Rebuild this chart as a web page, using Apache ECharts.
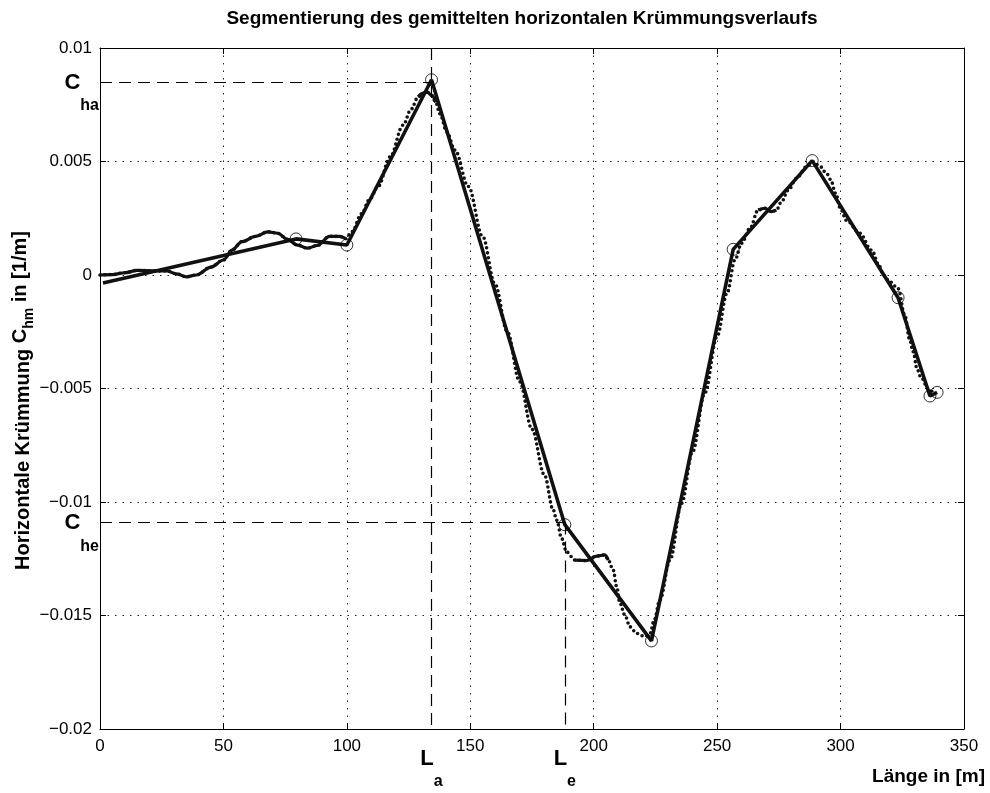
<!DOCTYPE html>
<html>
<head>
<meta charset="utf-8">
<title>Segmentierung</title>
<script src="https://cdn.jsdelivr.net/npm/echarts@6/dist/echarts.min.js"></script>
<style>
html, body { margin: 0; padding: 0; background: #fff; }
#main { width: 990px; height: 793px; }
</style>
</head>
<body>
<div id="main"></div>
<script>
// gemittelter Krümmungsverlauf
const meanX = [0, 5, 10, 15, 22, 27, 31, 35, 39, 45, 50, 53.5, 57.5, 63, 68, 72, 76, 80, 84, 88, 93, 97, 99.5,
  102, 106, 109, 112.7, 117.5, 122.8, 126, 128.9, 130.7, 132.6, 134.5, 136, 137.7, 140.5, 143.8, 149.2,
  155, 160, 165, 170, 175, 180, 183.6, 185, 187, 189, 192.4, 197, 201.2, 204.5, 205.9, 207.9, 209.3,
  210.6, 212.6, 214.7, 217.4, 220.7, 222.8, 224.5, 226.8, 230.9, 235.6, 240, 245, 250, 254, 257.2,
  259.9, 263.3, 266.6, 269.3, 272, 274, 276.1, 278.8, 282.2, 286.2, 288.9, 291.5, 294.3, 296, 298,
  300, 302.4, 307.8, 312.5, 315.9, 317.2, 320, 323.3, 326, 328, 329.4, 331, 332.4, 335.5, 337.5]
const meanY = [0, 0.00002, 0.0001, 0.0002, 0.00018, 0.00018, 0.00005, -0.00008, 0.0, 0.00035, 0.00066, 0.0011,
  0.00147, 0.0017, 0.0019, 0.00184, 0.00157, 0.00132, 0.00118, 0.0013, 0.0017, 0.0017, 0.0016,
  0.0019, 0.0027, 0.0033, 0.0039, 0.0052, 0.0066, 0.0073, 0.00785, 0.008, 0.00805, 0.0079, 0.0076,
  0.0071, 0.0063, 0.0055, 0.0039, 0.0017, -0.0004, -0.0025, -0.0047, -0.0068, -0.0088, -0.01035,
  -0.0108, -0.0116, -0.0122, -0.01256, -0.01258, -0.01238, -0.01233, -0.01256, -0.013, -0.01373,
  -0.01445, -0.01498, -0.0155, -0.01579, -0.01593, -0.0158, -0.0152, -0.01432, -0.01256, -0.01006,
  -0.0078, -0.0052, -0.0027, -0.0008, 0.00066, 0.0014, 0.00206, 0.00286, 0.00294, 0.00279, 0.00286,
  0.00323, 0.00374, 0.00426, 0.00477, 0.00499, 0.0048, 0.00448, 0.0042, 0.0036, 0.0029, 0.0024,
  0.00184, 0.0011, 0.00037, 0.0, -0.0003, -0.0006, -0.00176, -0.00286, -0.00338, -0.00414, -0.00448,
  -0.005, -0.00524]
// parts of the mean curve where the dots run together
const solidRanges = [[0, 100], [128.5, 136.5], [191, 206], [264, 274]]

// segmentation (straight pieces between the circled break points)
const segX = [1.2, 79.4, 100, 134.3, 188.3, 223.4, 256.5, 288.5, 323.3, 336.2, 339.1]
const segY = [-0.00035, 0.00159, 0.00132, 0.0086, -0.011, -0.01612, 0.00113, 0.00504, -0.001, -0.00533, -0.00517]

const La = 134.3
const Le = 188.3
const Cha = 0.0085
const Che = -0.0109

const FONT = 'Liberation Sans'
const INK = '#111'

const myChart = echarts.init(document.getElementById('main'))

const pairs = (xs, ys) => xs.map((x, i) => [x, ys[i]])
const meanData = pairs(meanX, meanY)

const solidSeries = solidRanges.map(r => ({
  type: 'line',
  data: meanData.filter(p => p[0] >= r[0] && p[0] <= r[1]),
  smooth: 0.35,
  smoothMonotone: 'x',
  showSymbol: false,
  lineStyle: { color: INK, width: 3.2 },
  z: 3
}))

const subLabel = (main, sub) => ({
  formatter: `{m|${main}}{s|${sub}}`,
  color: '#000',
  rich: {
    m: { fontFamily: FONT, fontWeight: 'bold', fontSize: 22, lineHeight: 24, padding: [2, 0, 38, 0], verticalAlign: 'top' },
    s: { fontFamily: FONT, fontWeight: 'bold', fontSize: 16, lineHeight: 16, padding: [28, 0, 20, 0], verticalAlign: 'top' }
  }
})

const yFmt = v => {
  if (Math.abs(v) < 1e-12) return '0'
  const s = String(+Math.abs(v).toFixed(4))
  return v < 0 ? '\u2212' + s : s
}

const dashStyle = { color: '#000', width: 1.2, type: [12, 7] }
const gridDots = { color: '#222', width: 1, type: [1.5, 6] }

myChart.setOption({
  animation: false,
  backgroundColor: '#fff',
  title: {
    text: 'Segmentierung des gemittelten horizontalen Krümmungsverlaufs',
    left: 517,
    top: 4,
    textAlign: 'center',
    textStyle: { fontFamily: FONT, fontWeight: 'bold', fontSize: 19, color: '#000' }
  },
  grid: { left: 100, right: 26, top: 48, bottom: 64, outerBoundsMode: 'none' },
  xAxis: [{
    type: 'value',
    min: 0, max: 350, interval: 50,
    name: 'Länge in [m]',
    nameLocation: 'end',
    nameGap: 21,
    nameTextStyle: {
      fontFamily: FONT, fontWeight: 'bold', fontSize: 19, color: '#000',
      align: 'right', verticalAlign: 'top', padding: [38, 0, 0, 0]
    },
    axisLine: { onZero: false, lineStyle: { color: '#000', width: 1 } },
    axisTick: { inside: true, length: 6, lineStyle: { color: '#000' } },
    axisLabel: { fontFamily: FONT, fontSize: 17, color: '#000', margin: 9 },
    splitLine: { show: true, lineStyle: gridDots }
  }, {
    type: 'value', position: 'top',
    min: 0, max: 350, interval: 50,
    axisLine: { show: true, onZero: false, lineStyle: { color: '#000', width: 1 } },
    axisTick: { inside: true, length: 6, lineStyle: { color: '#000' } },
    axisLabel: { show: false },
    splitLine: { show: false }
  }],
  yAxis: [{
    type: 'value',
    min: -0.02, max: 0.01, interval: 0.005,
    name: 'Horizontale Krümmung {c|C}{s|hm}{c| in [1/m]}',
    nameLocation: 'middle',
    nameGap: 66,
    nameMoveOverlap: false,
    nameTextStyle: {
      fontFamily: FONT, fontWeight: 'bold', fontSize: 20, color: '#000',
      padding: [0, 24, 0, 0],
      rich: {
        c: { fontFamily: FONT, fontWeight: 'bold', fontSize: 20, color: '#000', lineHeight: 22, padding: [0, 0, 6, 0] },
        s: { fontFamily: FONT, fontWeight: 'bold', fontSize: 14, color: '#000', lineHeight: 16, padding: [12, 0, 0, 0] }
      }
    },
    axisLine: { show: true, onZero: false, lineStyle: { color: '#000', width: 1 } },
    axisTick: { show: true, inside: true, length: 6, lineStyle: { color: '#000' } },
    axisLabel: { fontFamily: FONT, fontSize: 17, color: '#000', margin: 8, formatter: yFmt },
    splitLine: { show: true, lineStyle: gridDots }
  }, {
    type: 'value', position: 'right',
    min: -0.02, max: 0.01, interval: 0.005,
    axisLine: { show: true, onZero: false, lineStyle: { color: '#000', width: 1 } },
    axisTick: { show: true, inside: true, length: 6, lineStyle: { color: '#000' } },
    axisLabel: { show: false },
    splitLine: { show: false }
  }],
  series: [{
    type: 'line',
    data: meanData,
    smooth: 0.35,
    smoothMonotone: 'x',
    showSymbol: false,
    lineStyle: { color: INK, width: 3.6, type: [0, 5], cap: 'round' },
    z: 3
  },
  ...solidSeries,
  {
    type: 'line',
    data: pairs(segX, segY),
    showSymbol: false,
    lineStyle: { color: INK, width: 3.6 },
    z: 4
  }, {
    type: 'scatter',
    data: pairs(segX, segY).slice(1),
    symbol: 'circle',
    symbolSize: 12,
    itemStyle: { color: 'rgba(0,0,0,0)', borderColor: '#000', borderWidth: 1 },
    z: 5
  }, {
    type: 'line',
    data: [],
    markLine: {
      silent: true,
      symbol: ['none', 'none'],
      lineStyle: dashStyle,
      data: [
        [{ coord: [0, Cha], label: Object.assign({ position: 'start', distance: 1 }, subLabel('C', 'ha')) }, { coord: [La, Cha] }],
        [{ coord: [La, 0.01], label: Object.assign({ position: 'end', distance: 17 }, subLabel('L', 'a')) }, { coord: [La, -0.02] }],
        [{ coord: [0, Che], label: Object.assign({ position: 'start', distance: 1 }, subLabel('C', 'he')) }, { coord: [Le, Che] }],
        [{ coord: [Le, Che], label: Object.assign({ position: 'end', distance: 17 }, subLabel('L', 'e')) }, { coord: [Le, -0.02] }]
      ]
    }
  }]
})
</script>
</body>
</html>
